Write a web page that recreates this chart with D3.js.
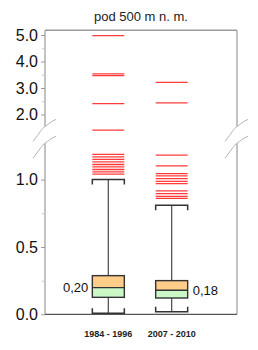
<!DOCTYPE html>
<html>
<head>
<meta charset="utf-8">
<script src="https://cdn.jsdelivr.net/npm/d3@7"></script>
<style>
  body { margin: 0; background: #fff; }
  svg { display: block; font-family: "Liberation Sans", Arial, sans-serif; }
</style>
</head>
<body>
<div id="chart"></div>
<script>
const categories = ["1984 - 1996", "2007 - 2010"];
const whiskerLow = [0.007, 0.019];
const q1 = [0.126, 0.121];
const median = [0.198, 0.178];
const q3 = [0.287, 0.25];
const whiskerHigh = [1.0, 0.809];
const medianLabels = ["0,20", "0,18"];
const outliers = [
  [1.04, 1.057, 1.075, 1.094, 1.112, 1.131, 1.15, 1.168, 1.187, 1.41, 2.41, 3.47, 3.53, 4.98],
  [0.86, 0.875, 0.896, 0.916, 0.97, 0.987, 1.007, 1.028, 1.045, 1.102, 1.181, 2.44, 3.21]
];
const lowerTicks = [0, 0.5, 1.0];
const lowerMinor = [0.25, 0.75];
const upperTicks = [2, 3, 4, 5];
const upperMinor = [2.5, 3.5, 4.5];
const title = "pod 500 m n. m.";

const width = 258, height = 350;
const left = 45, right = 237;
const breakValue = 1.3;

const svg = d3.select("#chart").append("svg")
  .attr("width", width).attr("height", height);

// two segments of the broken axis
const yLo = d3.scaleLinear().domain([0, 1]).range([314.3, 179.6]);
const yUp = d3.scaleLinear().domain([2, 5]).range([114.5, 35]);
const loTop = 1.27, upBottom = 1.55, upTop = 5.18;
const y = v => v > breakValue ? yUp(v) : yLo(v);

const x = d3.scalePoint().domain(categories).range([left, 235]).padding(1);
const bw = 32;
const cx = c => x(c);

// frame
svg.append("line").attr("x1", left).attr("x2", right)
  .attr("y1", yUp(upTop)).attr("y2", yUp(upTop))
  .attr("stroke", "#9a9a9a").attr("stroke-width", 1.5);
[left, right].forEach(px => {
  svg.append("line").attr("x1", px).attr("x2", px)
    .attr("y1", yUp(upTop)).attr("y2", yUp(upBottom))
    .attr("stroke", "#9a9a9a").attr("stroke-width", 1.2);
  svg.append("line").attr("x1", px).attr("x2", px)
    .attr("y1", yLo(loTop)).attr("y2", yLo(0))
    .attr("stroke", "#9a9a9a").attr("stroke-width", 1.2);
  // break marks
  [yUp(upBottom), yLo(loTop)].forEach(py => {
    svg.append("path")
      .attr("d", `M${px - 12},${py + 15} C${px - 5},${py + 6} ${px - 3},${py + 2} ${px},${py} S${px + 6},${py - 5} ${px + 11},${py - 7}`)
      .attr("fill", "none").attr("stroke", "#b5b5b5").attr("stroke-width", 1);
  });
});
svg.append("line").attr("x1", left).attr("x2", right)
  .attr("y1", yLo(0)).attr("y2", yLo(0))
  .attr("stroke", "#555").attr("stroke-width", 1.3);

// y axes
function drawAxis(scale, ticks, minor) {
  const g = svg.append("g").attr("transform", `translate(${left},0)`)
    .call(d3.axisLeft(scale).tickValues(ticks).tickSize(4).tickPadding(3).tickFormat(d3.format(".1f")));
  g.select(".domain").remove();
  g.selectAll(".tick line").attr("stroke", "#9a9a9a");
  g.selectAll(".tick text").attr("fill", "#111").style("font-size", "16px");
  const gm = svg.append("g").attr("transform", `translate(${left},0)`)
    .call(d3.axisLeft(scale).tickValues(minor).tickSize(3).tickFormat(""));
  gm.select(".domain").remove();
  gm.selectAll(".tick line").attr("stroke", "#c8c8c8");
}
drawAxis(yLo, lowerTicks, lowerMinor);
drawAxis(yUp, upperTicks, upperMinor);

// boxes
const boxes = svg.selectAll(".box").data(categories).enter().append("g").attr("class", "box");

boxes.append("line")
  .attr("x1", cx).attr("x2", cx)
  .attr("y1", (d, i) => y(whiskerHigh[i])).attr("y2", (d, i) => y(whiskerLow[i]))
  .attr("stroke", "#555").attr("stroke-width", 1.3);

// upper cap
boxes.append("path")
  .attr("d", (d, i) => {
    const yy = y(whiskerHigh[i]), x0 = cx(d) - bw / 2, x1 = cx(d) + bw / 2;
    return `M${x0},${yy + 5}V${yy}H${x1}V${yy + 5}`;
  })
  .attr("fill", "none").attr("stroke", "#333").attr("stroke-width", 1.5);
// lower cap
boxes.append("path")
  .attr("d", (d, i) => {
    const yy = y(whiskerLow[i]), x0 = cx(d) - bw / 2, x1 = cx(d) + bw / 2;
    return `M${x0},${yy - 5}V${yy}H${x1}V${yy - 5}`;
  })
  .attr("fill", "none").attr("stroke", "#333").attr("stroke-width", 1.5);

boxes.append("rect")
  .attr("x", d => cx(d) - bw / 2).attr("width", bw)
  .attr("y", (d, i) => y(q3[i])).attr("height", (d, i) => y(median[i]) - y(q3[i]))
  .attr("fill", "#ffcc8a");
boxes.append("rect")
  .attr("x", d => cx(d) - bw / 2).attr("width", bw)
  .attr("y", (d, i) => y(median[i])).attr("height", (d, i) => y(q1[i]) - y(median[i]))
  .attr("fill", "#ccf8c8");
boxes.append("rect")
  .attr("x", d => cx(d) - bw / 2).attr("width", bw)
  .attr("y", (d, i) => y(q3[i])).attr("height", (d, i) => y(q1[i]) - y(q3[i]))
  .attr("fill", "none").attr("stroke", "#333").attr("stroke-width", 1.4);
boxes.append("line")
  .attr("x1", d => cx(d) - bw / 2).attr("x2", d => cx(d) + bw / 2)
  .attr("y1", (d, i) => y(median[i])).attr("y2", (d, i) => y(median[i]))
  .attr("stroke", "#333").attr("stroke-width", 1.4);

// outliers
boxes.each(function (d, i) {
  d3.select(this).selectAll(".out").data(outliers[i]).enter().append("line")
    .attr("x1", cx(d) - bw / 2).attr("x2", cx(d) + bw / 2)
    .attr("y1", v => y(v)).attr("y2", v => y(v))
    .attr("stroke", "#ff1a1a").attr("stroke-opacity", 0.85).attr("stroke-width", 1.3);
});

// median labels
boxes.append("text")
  .attr("x", (d, i) => i === 0 ? cx(d) - bw / 2 - 4 : cx(d) + bw / 2 + 5)
  .attr("y", (d, i) => y(median[i]))
  .attr("dy", "0.35em")
  .attr("text-anchor", (d, i) => i === 0 ? "end" : "start")
  .style("font-size", "13px").attr("fill", "#111")
  .text((d, i) => medianLabels[i]);

// category labels
svg.selectAll(".cat").data(categories).enter().append("text")
  .attr("x", cx).attr("y", 337)
  .attr("text-anchor", "middle")
  .style("font-size", "9px").style("font-weight", "bold").attr("fill", "#222")
  .text(d => d);

svg.append("text")
  .attr("x", (left + right) / 2).attr("y", 21)
  .attr("text-anchor", "middle")
  .style("font-size", "13px").attr("fill", "#222")
  .text(title);
</script>
</body>
</html>
